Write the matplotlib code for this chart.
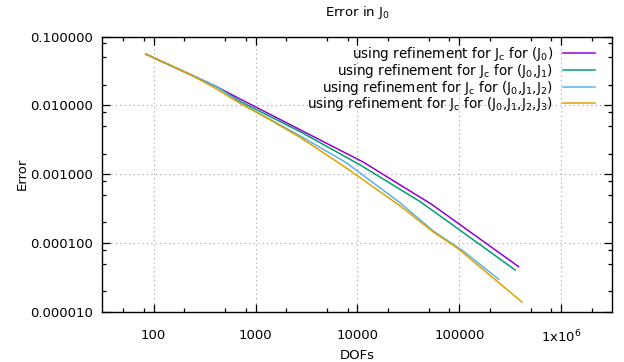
"""
Error in J_0 vs DOFs for the different refinement strategies (gnuplot look-alike).
"""

import matplotlib
matplotlib.use("Agg")
import matplotlib.pyplot as plt
from matplotlib.ticker import FixedLocator, NullFormatter

# =============================================================================
# Data
# =============================================================================

dofs_j0 = [84, 415, 713, 11450, 26400, 53150, 381400]
err_j0 = [0.0555, 0.0187, 0.0123, 0.00150, 0.000697, 0.000369, 0.0000457]

dofs_j01 = [84, 415, 713, 2762, 10700, 41460, 94950, 354000]
err_j01 = [0.0555, 0.0187, 0.01136, 0.00414, 0.00136, 0.000399, 0.0001656, 0.0000407]

dofs_j012 = [84, 415, 713, 2762, 7630, 10230, 26400, 55610, 109400, 244000]
err_j012 = [0.0555, 0.0187, 0.0108, 0.00358, 0.00150, 0.00109, 0.000382,
            0.000150, 0.0000768, 0.0000298]

dofs_j0123 = [84, 211, 387, 713, 1403, 2762, 7290, 26400, 55610, 95590, 411900]
err_j0123 = [0.0555, 0.0299, 0.0184, 0.0106, 0.00612, 0.00341, 0.00132,
             0.000346, 0.000145, 0.0000849, 0.0000140]

labels = [
    r"using refinement for J$_\mathregular{c}$ for (J$_\mathregular{0}$)",
    r"using refinement for J$_\mathregular{c}$ for (J$_\mathregular{0}$,J$_\mathregular{1}$)",
    r"using refinement for J$_\mathregular{c}$ for (J$_\mathregular{0}$,J$_\mathregular{1}$,J$_\mathregular{2}$)",
    r"using refinement for J$_\mathregular{c}$ for (J$_\mathregular{0}$,J$_\mathregular{1}$,J$_\mathregular{2}$,J$_\mathregular{3}$)",
]
colors = ["#9400d3", "#009e73", "#56b4e9", "#e69f00"]

x_major = [100, 1000, 10000, 100000, 1000000]
x_ticklabels = ["100", "1000", "10000", "100000", r"1x10$^\mathregular{6}$"]
y_major = [1e-5, 1e-4, 1e-3, 1e-2, 1e-1]
y_ticklabels = ["0.000010", "0.000100", "0.001000", "0.010000", "0.100000"]

# =============================================================================
# Plot
# =============================================================================

plt.rcParams["font.family"] = "DejaVu Sans"
plt.rcParams["font.size"] = 9.5

fig = plt.figure(figsize=(6.24, 3.62), dpi=100)
ax = fig.add_axes([0.163, 0.138, 0.818, 0.761])

series = [
    (dofs_j0, err_j0),
    (dofs_j01, err_j01),
    (dofs_j012, err_j012),
    (dofs_j0123, err_j0123),
]
for (xs, ys), lab, col in zip(series, labels, colors):
    ax.plot(xs, ys, color=col, linewidth=1.1, label=lab)

ax.set_xscale("log")
ax.set_yscale("log")
ax.set_xlim(10 ** 1.49, 10 ** 6.5)
ax.set_ylim(1e-5, 1e-1)

ax.xaxis.set_major_locator(FixedLocator(x_major))
ax.set_xticklabels(x_ticklabels)
ax.yaxis.set_major_locator(FixedLocator(y_major))
ax.set_yticklabels(y_ticklabels)

minor_x = [m * 10 ** e for e in range(1, 7) for m in (2, 5, 8)]
minor_y = [m * 10.0 ** e for e in range(-6, 0) for m in (2, 5, 8)]
ax.xaxis.set_minor_locator(FixedLocator(minor_x))
ax.yaxis.set_minor_locator(FixedLocator(minor_y))
ax.xaxis.set_minor_formatter(NullFormatter())
ax.yaxis.set_minor_formatter(NullFormatter())

ax.tick_params(which="both", direction="in", top=True, right=True, width=0.9)
ax.tick_params(which="major", length=6)
ax.tick_params(which="minor", length=3)
ax.tick_params(axis="x", which="major", pad=12)
ax.tick_params(axis="y", which="major", pad=6)

ax.grid(which="major", color="#a0a0a0", linestyle=(0, (1, 3)), linewidth=0.8)
for s in ax.spines.values():
    s.set_linewidth(1.0)

ax.set_title(r"Error in J$_\mathregular{0}$", fontsize=9.5, pad=14.5)
ax.set_xlabel("DOFs", labelpad=2.5)
ax.set_ylabel("Error", labelpad=1.5)

ax.legend(loc="upper right", frameon=False, markerfirst=False,
          fontsize=9.75, handlelength=2.4, handletextpad=0.7,
          labelspacing=-0.1, borderaxespad=0.3,
          bbox_to_anchor=(0.985, 1.003))

plt.savefig("out.png", dpi=100)
plt.close()
